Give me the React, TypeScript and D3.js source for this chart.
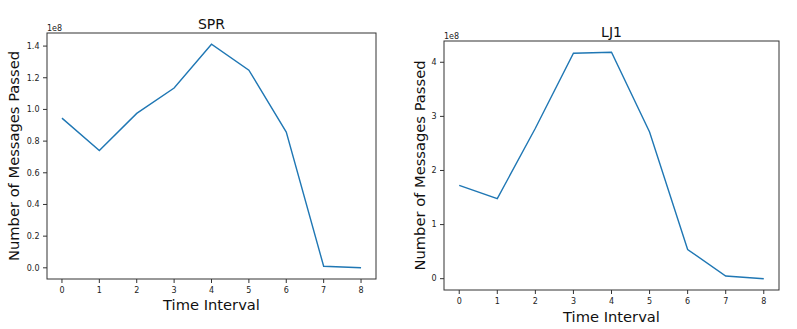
import React from "react";
import * as d3 from "d3";

const timeIntervals = [0, 1, 2, 3, 4, 5, 6, 7, 8];
const sprMessages = [0.945e8, 0.74e8, 0.975e8, 1.135e8, 1.412e8, 1.248e8, 0.857e8, 0.01e8, 0.0];
const lj1Messages = [1.725e8, 1.48e8, 2.78e8, 4.166e8, 4.184e8, 2.71e8, 0.54e8, 0.05e8, 0.0];
const sprYTicks = [0, 0.2, 0.4, 0.6, 0.8, 1.0, 1.2, 1.4];
const lj1YTicks = [0, 1, 2, 3, 4];
const xTicks = [0, 1, 2, 3, 4, 5, 6, 7, 8];

const FONT = "'DejaVu Sans', sans-serif";
const LINE = "#1f77b4";
const AXIS = "#333";

type PanelProps = {
  title: string;
  values: number[];
  yTicks: number[];
  yFmt: (v: number) => string;
  left: number;
  right: number;
  top: number;
  bottom: number;
  yLabelX: number;
  titleY: number;
  xLabelY: number;
};

function Panel(p: PanelProps) {
  const scaled = p.values.map((v) => v / 1e8);
  const maxV = d3.max(scaled) as number;
  const minV = d3.min(scaled) as number;
  const pad = (maxV - minV) * 0.05;
  const x = d3.scaleLinear().domain([-0.4, 8.4]).range([p.left, p.right]);
  const y = d3.scaleLinear().domain([minV - pad, maxV + pad]).range([p.bottom, p.top]);
  const line = d3
    .line<number>()
    .x((_, i) => x(timeIntervals[i]))
    .y((d) => y(d));
  const cx = (p.left + p.right) / 2;
  const cy = (p.top + p.bottom) / 2;
  return (
    <g>
      <path d={line(scaled) || ""} fill="none" stroke={LINE} strokeWidth={1.4} />
      <rect
        x={p.left}
        y={p.top}
        width={p.right - p.left}
        height={p.bottom - p.top}
        fill="none"
        stroke={AXIS}
        strokeWidth={1}
      />
      {xTicks.map((t) => (
        <g key={"x" + t}>
          <line x1={x(t)} x2={x(t)} y1={p.bottom} y2={p.bottom + 4} stroke={AXIS} strokeWidth={1} />
          <text x={x(t)} y={p.bottom + 13.5} fontSize={8} fontFamily={FONT} fill="#222" textAnchor="middle">
            {t}
          </text>
        </g>
      ))}
      {p.yTicks.map((t) => (
        <g key={"y" + t}>
          <line x1={p.left - 4} x2={p.left} y1={y(t)} y2={y(t)} stroke={AXIS} strokeWidth={1} />
          <text
            x={p.left - 7.5}
            y={y(t)}
            dy="0.35em"
            fontSize={8}
            fontFamily={FONT}
            fill="#222"
            textAnchor="end"
          >
            {p.yFmt(t)}
          </text>
        </g>
      ))}
      <text x={p.left} y={p.top - 1.8} fontSize={8} fontFamily={FONT} fill="#222">
        1e8
      </text>
      <text x={cx} y={p.titleY} fontSize={14} fontFamily={FONT} fill="#111" textAnchor="middle">
        {p.title}
      </text>
      <text x={cx} y={p.xLabelY} fontSize={14.7} fontFamily={FONT} fill="#111" textAnchor="middle">
        Time Interval
      </text>
      <text
        transform={`translate(${p.yLabelX},${cy}) rotate(-90)`}
        fontSize={14.7}
        fontFamily={FONT}
        fill="#111"
        textAnchor="middle"
      >
        Number of Messages Passed
      </text>
    </g>
  );
}

export default function App() {
  return (
    <svg
      width={797}
      height={329}
      style={{ position: "absolute", left: 0, top: 0, background: "#fff" }}
    >
      <rect width={797} height={329} fill="#fff" />
      <Panel
        title="SPR"
        values={sprMessages}
        yTicks={sprYTicks}
        yFmt={d3.format(".1f")}
        left={47}
        right={376}
        top={33}
        bottom={279}
        yLabelX={19}
        titleY={29.3}
        xLabelY={310}
      />
      <Panel
        title="LJ1"
        values={lj1Messages}
        yTicks={lj1YTicks}
        yFmt={d3.format("d")}
        left={444}
        right={779}
        top={41}
        bottom={290}
        yLabelX={425}
        titleY={36.5}
        xLabelY={321.5}
      />
    </svg>
  );
}
